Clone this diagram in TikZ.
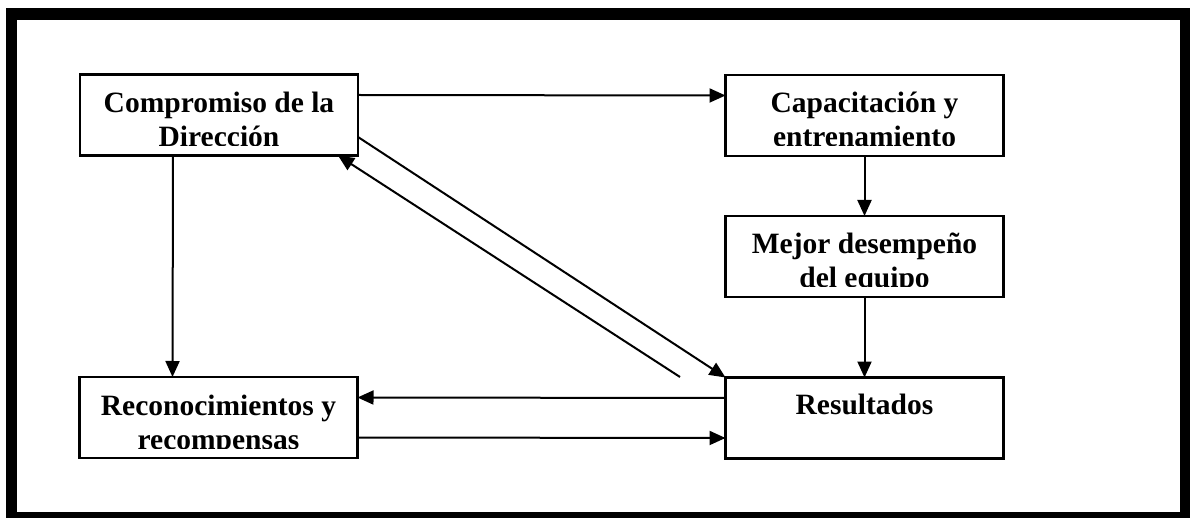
\documentclass[tikz,border=0pt]{standalone}
\usepackage{fontspec}
\setmainfont{Liberation Serif}
\usetikzlibrary{arrows.meta}
% two text lines inside a box, cut off a little above the box's lower edge
\newcommand\twolines[3]{%
  \begin{scope}
    \clip ([xshift=1pt,yshift=-1pt]#1.north west) rectangle ([yshift=10pt]#1.south east);
    \node[txt] (#1-1) at ([yshift=-38pt]#1.north) {#2};
    \node[txt] (#1-2) at ([yshift=-72pt]#1.north) {#3};
  \end{scope}}
\begin{document}
\begin{tikzpicture}[x=1pt,y=-1pt,
  box/.style={draw, line width=2.3pt, minimum width=278pt, minimum height=81pt,
              inner sep=0pt, outer sep=0pt},
  txt/.style={font=\fontsize{29.5}{34}\selectfont\bfseries, inner sep=0pt, anchor=base},
  conn/.style={line width=2pt, -{Triangle[length=16pt,width=14pt]}}]
\useasboundingbox (0,0) rectangle (1190,518);
\fill[white] (0,0) rectangle (1190,518);
% heavy frame
\fill[black] (6,8) rectangle (1190,518);
\fill[white] (17,20) rectangle (1180,512);

% boxes
\node[box] (A) at (219,115)   {};
\node[box] (B) at (864.5,115.5) {};
\node[box] (C) at (864.5,256.5) {};
\node[box] (D) at (864.5,418)  {};
\node[box] (E) at (218.5,417.5) {};

\twolines{A}{Compromiso de la}{Dirección}
\twolines{B}{Capacitación y}{entrenamiento}
\twolines{C}{Mejor desempeño}{del equipo}
\twolines{E}{Reconocimientos y}{recompensas}
\node[txt] (D-1) at ([yshift=-37pt]D.north) {Resultados};

% connectors
\draw[conn] ([yshift=20pt]A.east) -- ([yshift=20pt]B.west);
\draw[conn] (B.south) -- (C.north);
\draw[conn] (C.south) -- (D.north);
\draw[conn] ([xshift=-46pt]A.south) -- ([xshift=-46pt]E.north);
\draw[conn] ([yshift=20pt]D.west) -- ([yshift=20pt]E.east);
\draw[conn] ([yshift=-20pt]E.east) -- ([yshift=-20pt]D.west);
\draw[conn] ([yshift=-22pt]A.east) -- (D.north west);
\coordinate (ret) at (680,377);
\draw[conn] (ret) -- ([xshift=-20pt]A.south east);
\end{tikzpicture}
\end{document}
